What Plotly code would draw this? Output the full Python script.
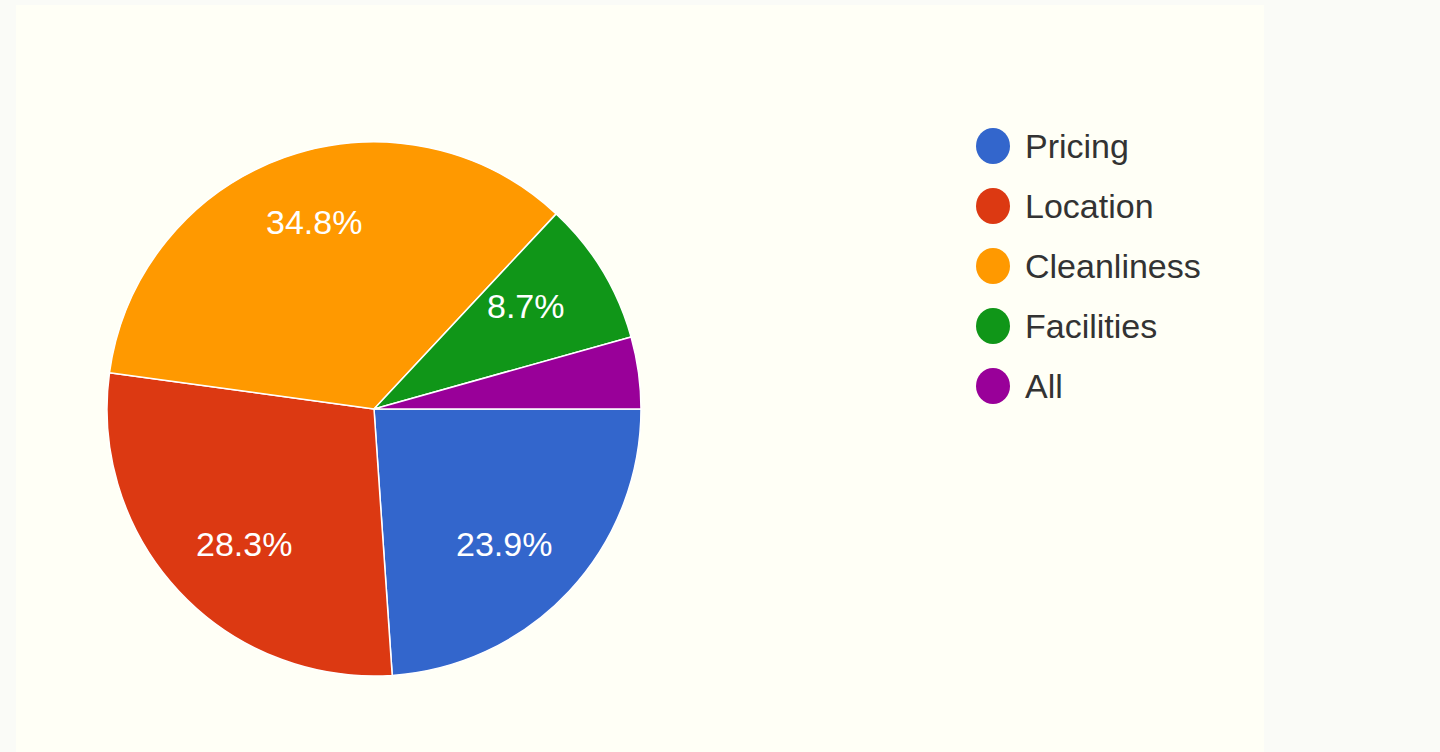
import math
import plotly.graph_objects as go

W, H = 1440, 752

categories = ["Pricing", "Location", "Cleanliness", "Facilities", "All"]
responses = [11, 13, 16, 4, 2]
colors = ["#3366CC", "#DC3912", "#FF9900", "#109618", "#990099"]
min_label_share = 0.05  # slices smaller than this get no percentage label

FONT = "Arial, 'Liberation Sans', sans-serif"

# pie geometry (pixels)
cx, cy, r = 374, 409, 267
lab_rx, lab_ry = 178, 198  # distance of percentage labels from centre


def px_x(x):
    return x / W


def px_y(y):
    return 1 - y / H


fig = go.Figure()
fig.add_trace(go.Pie(
    labels=categories,
    values=responses,
    sort=False,
    direction="clockwise",
    rotation=90,
    marker=dict(colors=colors, line=dict(color="white", width=1.5)),
    textinfo="none",
    hoverinfo="label+value+percent",
    showlegend=False,
    domain=dict(x=[px_x(cx - r), px_x(cx + r)], y=[px_y(cy + r), px_y(cy - r)]),
))

annotations = []
total = sum(responses)
cum = 0
for v in responses:
    share = v / total
    mid = 2 * math.pi * (cum + v / 2) / total
    cum += v
    if share < min_label_share:
        continue
    annotations.append(dict(
        xref="paper", yref="paper",
        x=px_x(cx + lab_rx * math.cos(mid)), y=px_y(cy + lab_ry * math.sin(mid)),
        xanchor="center", yanchor="middle", showarrow=False,
        text=f"{share * 100:.1f}%",
        font=dict(family=FONT, size=34, color="white")))

shapes = [dict(type="rect", xref="paper", yref="paper",
               x0=px_x(16), x1=px_x(1264), y0=0, y1=px_y(5),
               fillcolor="#FFFFF6", line=dict(width=0), layer="below")]
leg_x, leg_y0, leg_dy = 993, 146, 60
for i, (name, col) in enumerate(zip(categories, colors)):
    yc = leg_y0 + i * leg_dy
    shapes.append(dict(type="circle", xref="paper", yref="paper",
                       x0=px_x(leg_x - 17), x1=px_x(leg_x + 17),
                       y0=px_y(yc + 18), y1=px_y(yc - 18),
                       fillcolor=col, line=dict(width=0)))
    annotations.append(dict(xref="paper", yref="paper", x=px_x(1023), y=px_y(yc),
                            xanchor="left", yanchor="middle", showarrow=False,
                            text=name, font=dict(family=FONT, size=34, color="#333333")))

fig.update_layout(
    width=W, height=H,
    margin=dict(l=0, r=0, t=0, b=0),
    paper_bgcolor="#FAFBF7",
    plot_bgcolor="#FAFBF7",
    shapes=shapes,
    annotations=annotations,
    showlegend=False,
)

fig.write_html(
    "out.html",
    config={"displayModeBar": False},
    post_script="document.body.style.margin='0';document.body.style.background='#FAFBF7';",
)
